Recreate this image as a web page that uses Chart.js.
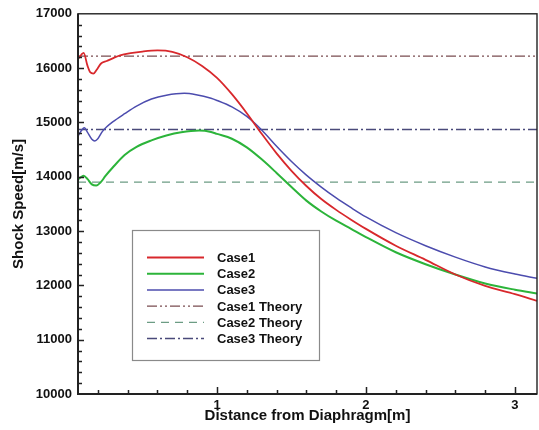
<!DOCTYPE html>
<html>
<head>
<meta charset="utf-8">
<script src="https://cdn.jsdelivr.net/npm/chart.js@4.4.1/dist/chart.umd.min.js"></script>
<style>
  html, body { margin: 0; padding: 0; background: #fff; }
  #wrap { width: 539px; height: 430px; }
</style>
</head>
<body>
<div id="wrap"><canvas id="chartShock" width="539" height="430"></canvas></div>
<script>
// Shock speed [m/s] against distance from the diaphragm [m]
const case1Dist  = [0.067, 0.09, 0.105, 0.13, 0.15, 0.17, 0.19, 0.22, 0.26, 0.30, 0.35, 0.42, 0.50, 0.60, 0.70, 0.80, 0.90, 1.00, 1.10, 1.20, 1.30, 1.40, 1.50, 1.60, 1.70, 1.80, 1.90, 2.00, 2.20, 2.40, 2.60, 2.80, 3.00, 3.148];
const case1Speed = [16170, 16250, 16280, 16050, 15920, 15900, 15960, 16080, 16130, 16180, 16235, 16275, 16305, 16325, 16300, 16200, 16040, 15820, 15520, 15170, 14790, 14430, 14110, 13830, 13590, 13390, 13210, 13040, 12730, 12470, 12200, 11990, 11840, 11715];

const case2Dist  = [0.067, 0.09, 0.105, 0.13, 0.16, 0.19, 0.22, 0.25, 0.30, 0.38, 0.46, 0.56, 0.66, 0.76, 0.88, 0.96, 1.00, 1.10, 1.20, 1.30, 1.40, 1.50, 1.60, 1.70, 1.80, 1.90, 2.00, 2.20, 2.40, 2.60, 2.80, 3.00, 3.148];
const case2Speed = [13950, 14000, 14020, 13960, 13860, 13840, 13900, 14010, 14170, 14400, 14550, 14670, 14760, 14820, 14850, 14825, 14790, 14700, 14540, 14320, 14070, 13810, 13560, 13360, 13190, 13040, 12890, 12610, 12390, 12200, 12035, 11920, 11850];

const case3Dist  = [0.067, 0.09, 0.11, 0.13, 0.16, 0.18, 0.20, 0.23, 0.26, 0.30, 0.38, 0.46, 0.56, 0.66, 0.78, 0.86, 0.96, 1.00, 1.10, 1.20, 1.30, 1.40, 1.50, 1.60, 1.70, 1.80, 1.90, 2.00, 2.20, 2.40, 2.60, 2.80, 3.00, 3.148];
const case3Speed = [14750, 14850, 14900, 14820, 14690, 14660, 14700, 14830, 14920, 15010, 15160, 15300, 15430, 15500, 15535, 15510, 15445, 15405, 15285, 15110, 14860, 14560, 14280, 14030, 13810, 13610, 13430, 13260, 12970, 12730, 12520, 12340, 12210, 12130];

// analytical shock speeds
const theoryDist   = [0.067, 3.148];
const case1Theory  = [16220, 16220];
const case2Theory  = [13900, 13900];
const case3Theory  = [14870, 14870];

const xTickValues = [1, 2, 3];
const yTickValues = [10000, 11000, 12000, 13000, 14000, 15000, 16000, 17000];

function toPoints(xs, ys) {
    return xs.map((v, i) => ({ x: v, y: ys[i] }));
}

const fontFamily = '"Liberation Sans", Arial, sans-serif';

// inward tick marks and frame round the plot area
const axisTicks = {
    id: 'axisTicks',
    afterDraw(chart) {
        const { ctx, chartArea: a, scales: { x, y } } = chart;
        ctx.save();
        ctx.strokeStyle = '#222';
        ctx.lineWidth = 1.4;
        ctx.strokeRect(a.left, a.top, a.right - a.left, a.bottom - a.top);
        ctx.lineWidth = 2;
        ctx.beginPath();
        ctx.moveTo(a.left, a.top);
        ctx.lineTo(a.left, a.bottom);
        ctx.lineTo(a.right, a.bottom);
        ctx.stroke();

        ctx.lineWidth = 1.5;
        ctx.beginPath();
        for (let v = 10200; v < 17000; v += 200) {
            const py = Math.round(y.getPixelForValue(v)) + 0.5;
            const len = v % 1000 === 0 ? 6 : 4;
            ctx.moveTo(a.left, py);
            ctx.lineTo(a.left + len, py);
        }
        for (let k = 1; k <= 15; k++) {
            const v = k * 0.2;
            const px = Math.round(x.getPixelForValue(v)) + 0.5;
            const len = k % 5 === 0 ? 7 : 4;
            ctx.moveTo(px, a.bottom);
            ctx.lineTo(px, a.bottom - len);
        }
        ctx.stroke();
        ctx.restore();
    }
};

// boxed legend inside the plot
const boxLegend = {
    id: 'boxLegend',
    afterDraw(chart) {
        const ctx = chart.ctx;
        const box = { left: 132, top: 230, right: 319, bottom: 360 };
        ctx.save();
        ctx.fillStyle = '#fff';
        ctx.fillRect(box.left, box.top, box.right - box.left, box.bottom - box.top);
        ctx.strokeStyle = '#8a8a8a';
        ctx.lineWidth = 1.2;
        ctx.strokeRect(box.left + 0.5, box.top + 0.5, box.right - box.left, box.bottom - box.top);

        ctx.font = 'bold 13px ' + fontFamily;
        ctx.textBaseline = 'middle';
        ctx.fillStyle = '#111';
        chart.data.datasets.forEach((ds, i) => {
            const yy = 257.5 + i * 16.2;
            ctx.strokeStyle = ds.borderColor;
            ctx.lineWidth = ds.borderWidth;
            ctx.setLineDash(ds.borderDash || []);
            ctx.beginPath();
            ctx.moveTo(147, yy);
            ctx.lineTo(204, yy);
            ctx.stroke();
            ctx.setLineDash([]);
            ctx.fillText(ds.label, 217, yy + 1);
        });
        ctx.restore();
    }
};

const ctx = document.getElementById('chartShock').getContext('2d');
window.chartShock = new Chart(ctx, {
    type: 'line',
    data: {
        datasets: [
            { label: 'Case1', data: toPoints(case1Dist, case1Speed), borderColor: '#d8282c', borderWidth: 1.8, cubicInterpolationMode: 'monotone' },
            { label: 'Case2', data: toPoints(case2Dist, case2Speed), borderColor: '#2cb43a', borderWidth: 2, cubicInterpolationMode: 'monotone' },
            { label: 'Case3', data: toPoints(case3Dist, case3Speed), borderColor: '#4c4cae', borderWidth: 1.5, cubicInterpolationMode: 'monotone' },
            { label: 'Case1 Theory', data: toPoints(theoryDist, case1Theory), borderColor: '#7a4c50', borderWidth: 1.3, borderDash: [10, 3, 2, 3, 2, 3] },
            { label: 'Case2 Theory', data: toPoints(theoryDist, case2Theory), borderColor: '#6c9c84', borderWidth: 1.3, borderDash: [8, 6] },
            { label: 'Case3 Theory', data: toPoints(theoryDist, case3Theory), borderColor: '#4a4a7a', borderWidth: 1.3, borderDash: [10, 3, 2, 3] }
        ]
    },
    options: {
        responsive: false,
        animation: false,
        devicePixelRatio: 1,
        layout: { padding: { top: 13, right: 2, left: 0, bottom: 0 } },
        elements: { point: { radius: 0, hoverRadius: 0 }, line: { fill: false } },
        plugins: {
            legend: { display: false },
            tooltip: { enabled: false }
        },
        scales: {
            x: {
                type: 'linear',
                min: 0.067,
                max: 3.148,
                afterBuildTicks: scale => { scale.ticks = xTickValues.map(v => ({ value: v })); },
                afterFit: scale => { scale.height = 36; },
                grid: { display: false, drawTicks: false },
                border: { display: false },
                ticks: {
                    color: '#111',
                    font: { family: fontFamily, size: 13, weight: 'bold' },
                    padding: 4,
                    maxRotation: 0,
                    autoSkip: false,
                    callback: v => String(v)
                },
                title: {
                    display: true,
                    text: 'Distance from Diaphragm[m]',
                    color: '#111',
                    font: { family: fontFamily, size: 15, weight: 'bold' },
                    padding: { top: 0, bottom: 5 }
                }
            },
            y: {
                min: 10000,
                max: 17000,
                afterBuildTicks: scale => { scale.ticks = yTickValues.map(v => ({ value: v })); },
                afterFit: scale => { scale.width = 78; },
                grid: { display: false, drawTicks: false },
                border: { display: false },
                ticks: {
                    color: '#111',
                    font: { family: fontFamily, size: 13, weight: 'bold' },
                    padding: 6,
                    autoSkip: false,
                    callback: v => String(v)
                },
                title: {
                    display: true,
                    text: 'Shock Speed[m/s]',
                    color: '#111',
                    font: { family: fontFamily, size: 15, weight: 'bold' },
                    padding: { top: 10, bottom: 0 }
                }
            }
        }
    },
    plugins: [axisTicks, boxLegend]
});
</script>
</body>
</html>
